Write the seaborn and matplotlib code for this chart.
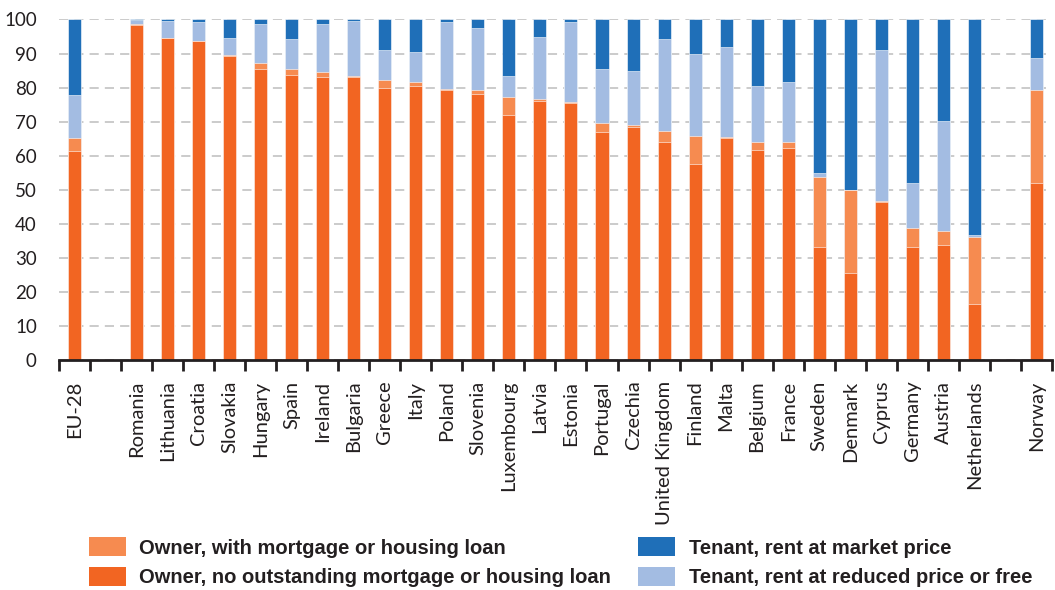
import numpy as np
import pandas as pd
import seaborn as sns
import matplotlib.pyplot as plt
from matplotlib.patches import Patch

# Categories (blank slots keep the gaps after EU-28 and before Norway)
countries = ["EU-28", " ", "Romania", "Lithuania", "Croatia", "Slovakia", "Hungary", "Spain",
             "Ireland", "Bulgaria", "Greece", "Italy", "Poland", "Slovenia", "Luxembourg",
             "Latvia", "Estonia", "Portugal", "Czechia", "United Kingdom", "Finland", "Malta",
             "Belgium", "France", "Sweden", "Denmark", "Cyprus", "Germany", "Austria",
             "Netherlands", "  ", "Norway"]

# Shares (%), NaN for the blank slots
owner_no_loan = [61.3, np.nan, 98.5, 94.5, 93.6, 89.3, 85.5, 83.7, 83.1, 83.2, 80.0, 80.6, 79.3,
                 78.2, 71.8, 76.1, 75.5, 66.8, 68.5, 64.1, 57.4, 65.3, 61.7, 62.3, 33.2, 25.6,
                 46.5, 33.2, 33.8, 16.4, np.nan, 52.0]
owner_loan = [4.0, np.nan, 0.3, 0.2, 0.1, 0.2, 1.6, 1.7, 1.4, 0.2, 2.1, 1.1, 0.2, 1.1, 5.4,
              0.5, 0.2, 2.8, 0.5, 3.1, 8.3, 0.2, 2.4, 1.8, 20.4, 24.2, 0.1, 5.6, 4.0, 19.8,
              np.nan, 27.3]
tenant_reduced = [12.5, np.nan, 1.0, 4.9, 5.5, 5.2, 11.5, 8.8, 14.1, 16.1, 8.9, 8.7, 19.7, 18.1,
                  6.1, 18.2, 23.5, 15.8, 15.9, 27.0, 24.2, 26.5, 16.4, 17.5, 1.2, 0.2, 44.5,
                  13.2, 32.3, 0.5, np.nan, 9.4]
tenant_market = [22.2, np.nan, 0.2, 0.4, 0.8, 5.3, 1.4, 5.8, 1.4, 0.5, 9.0, 9.6, 0.8, 2.6,
                 16.7, 5.2, 0.8, 14.6, 15.1, 5.8, 10.1, 8.0, 19.5, 18.4, 45.2, 50.0, 8.9,
                 48.0, 29.9, 63.3, np.nan, 11.3]

labels = ["Owner, with mortgage or housing loan",
          "Owner, no outstanding mortgage or housing loan",
          "Tenant, rent at market price",
          "Tenant, rent at reduced price or free"]
c_loan, c_noloan, c_market, c_reduced = "#f68b50", "#f26522", "#1f6fb8", "#a3bce2"

df = pd.DataFrame({"Country": countries, "no_loan": owner_no_loan, "loan": owner_loan,
                   "reduced": tenant_reduced, "market": tenant_market})
df["s1"] = df["no_loan"]
df["s2"] = df["s1"] + df["loan"]
df["s3"] = df["s2"] + df["reduced"]
df["s4"] = df["s3"] + df["market"]
plot_df = df.dropna()

plt.rcParams["font.family"] = ["Lato", "DejaVu Sans"]
fig = plt.figure(figsize=(10.55, 5.90), dpi=100)
ax = fig.add_axes([0.056, 0.39, 0.941, 0.577])

# Stacked bars: draw cumulative totals from the top layer down
for col, color in [("s4", c_market), ("s3", c_reduced), ("s2", c_loan), ("s1", c_noloan)]:
    sns.barplot(data=plot_df, x="Country", y=col, order=countries, color=color,
                width=0.42, saturation=1, edgecolor="white", linewidth=0.4, ax=ax, zorder=3)

ax.set_xlim(-0.5, len(countries) - 0.5)
ax.set_ylim(0, 100)
ax.set_yticks(np.arange(0, 101, 10))
ax.yaxis.grid(True, color="#bdbdbd", linestyle=(0, (6, 4)), linewidth=1.1, zorder=0)
ax.set_axisbelow(True)
ax.set_xlabel("")
ax.set_ylabel("")
for s in ["top", "right", "left"]:
    ax.spines[s].set_visible(False)
ax.spines["bottom"].set_linewidth(2)
ax.spines["bottom"].set_color("#231f20")
ax.spines["bottom"].set_zorder(5)

ax.set_xticks(range(len(countries)))
ax.set_xticklabels(countries, rotation=90, fontsize=14.5, color="#231f20")
ax.set_xticks(np.arange(-0.5, len(countries), 1), minor=True)
ax.tick_params(axis="x", which="major", length=0, pad=15)
ax.tick_params(axis="x", which="minor", length=8, width=2, color="#231f20", direction="out")
ax.tick_params(axis="y", length=0, pad=16, labelsize=13.5, labelcolor="#231f20")

handles = [Patch(facecolor=c_loan), Patch(facecolor=c_noloan),
           Patch(facecolor=c_market), Patch(facecolor=c_reduced)]
leg = fig.legend(handles, labels, ncol=2, loc="lower left", bbox_to_anchor=(0.067, -0.026),
                 frameon=False, prop={"family": "Liberation Sans", "weight": "bold", "size": 14.5},
                 handlelength=1.85, handleheight=1.1, handletextpad=0.65, columnspacing=1.35,
                 labelspacing=0.45)
for t in leg.get_texts():
    t.set_color("#231f20")

fig.savefig("out.png", dpi=100)
